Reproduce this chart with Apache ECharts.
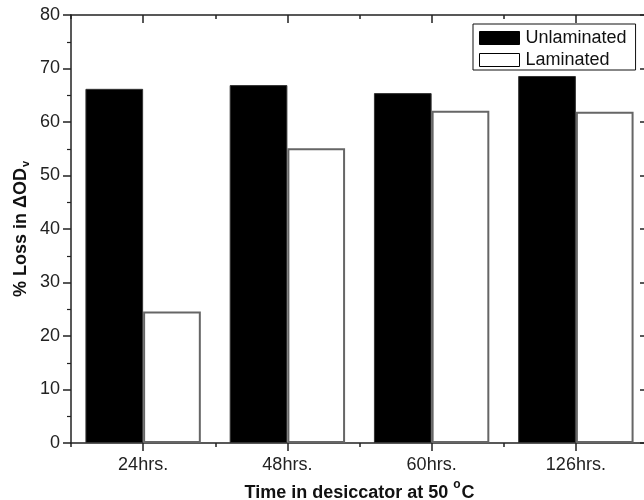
<!DOCTYPE html>
<html>
<head>
<meta charset="utf-8">
<script src="https://cdn.jsdelivr.net/npm/echarts@6/dist/echarts.min.js"></script>
<style>
html,body{margin:0;padding:0;background:#fff;}
#chart{width:644px;height:500px;}
</style>
</head>
<body>
<div id="chart"></div>
<script>
var categories = ['24hrs.', '48hrs.', '60hrs.', '126hrs.'];
var unlaminated = [66.2, 66.9, 65.4, 68.6];
var laminated = [24.6, 55.1, 62.1, 61.9];
var seriesNames = ['Unlaminated', 'Laminated'];
var yMin = 0, yMax = 80, yInterval = 10;

var FONT = '"Liberation Sans", Arial, Helvetica, sans-serif';
var AX = '#222';

var chart = echarts.init(document.getElementById('chart'), null, {renderer: 'canvas'});

function catAxis(pos, showLabel, len, align, showLine) {
  return {
    type: 'category', data: categories, position: pos,
    axisLine: {show: showLine, lineStyle: {color: AX, width: 1.5}},
    axisTick: {show: true, alignWithLabel: align, inside: pos === 'top', length: len, lineStyle: {color: AX, width: 1.5}},
    axisLabel: {show: showLabel, fontFamily: FONT, fontSize: 18, color: AX, margin: 13},
    splitLine: {show: false}
  };
}

var xAxes = [
  catAxis('bottom', true, 8, true, true),
  catAxis('bottom', false, 4, false, false),
  catAxis('top', false, 8, true, true),
  catAxis('top', false, 4, false, false)
];
xAxes[0].name = '{t|Time in desiccator at 50 }{s|o}{t|C}';
xAxes[0].nameLocation = 'middle';
xAxes[0].nameGap = 36;
xAxes[0].nameMoveOverlap = false;
xAxes[0].nameTextStyle = {
  rich: {
    t: {fontFamily: FONT, fontSize: 18, fontWeight: 'bold', color: '#111'},
    s: {fontFamily: FONT, fontSize: 12, fontWeight: 'bold', color: '#111', verticalAlign: 'top', padding: [0, 1, 16, 0]}
  }
};

function valAxis(pos) {
  var left = pos === 'left';
  return {
    type: 'value', min: yMin, max: yMax, interval: yInterval, position: pos,
    axisLine: {show: true, lineStyle: {color: AX, width: 1.5}},
    axisTick: {show: true, inside: !left, length: 8, lineStyle: {color: AX, width: 1.5}},
    minorTick: {show: true, splitNumber: 2, length: 4, lineStyle: {color: AX, width: 1.2}},
    axisLabel: {show: left, fontFamily: FONT, fontSize: 18, color: AX, margin: 11},
    splitLine: {show: false}
  };
}
var yAxes = [valAxis('left'), valAxis('right')];
yAxes[0].name = '{t|% Loss in ΔOD}{s|v}';
yAxes[0].nameLocation = 'middle';
yAxes[0].nameGap = 40;
yAxes[0].nameMoveOverlap = false;
yAxes[0].nameRotate = 90;
yAxes[0].nameTextStyle = {
  rich: {
    t: {fontFamily: FONT, fontSize: 18, fontWeight: 'bold', color: '#111'},
    s: {fontFamily: FONT, fontSize: 11, fontWeight: 'bold', color: '#111', verticalAlign: 'bottom', padding: [8, 0, 0, 1]}
  }
};

var option = {
  animation: false,
  backgroundColor: '#fff',
  grid: {left: 71, top: 15, width: 577, height: 428, containLabel: false, outerBoundsMode: 'none'},
  legend: {
    orient: 'vertical', left: 473, top: 24,
    padding: [5, 9, 1, 6],
    borderColor: '#111', borderWidth: 1,
    itemWidth: 40, itemHeight: 13, itemGap: 4,
    icon: 'rect',
    textStyle: {fontFamily: FONT, fontSize: 18, color: '#111', padding: [0, 0, 0, 1]},
    data: [
      {name: seriesNames[0], itemStyle: {color: '#000', borderColor: '#000', borderWidth: 1}},
      {name: seriesNames[1], itemStyle: {color: '#fff', borderColor: '#000', borderWidth: 1}}
    ]
  },
  xAxis: xAxes,
  yAxis: yAxes,
  series: [
    {name: seriesNames[0], type: 'bar', xAxisIndex: 0, yAxisIndex: 0, data: unlaminated,
     barWidth: '40%', barGap: '0%',
     itemStyle: {color: '#000', borderColor: '#333', borderWidth: 1}},
    {name: seriesNames[1], type: 'bar', xAxisIndex: 0, yAxisIndex: 0, data: laminated,
     barWidth: '40%', barGap: '0%',
     itemStyle: {color: '#fff', borderColor: '#666', borderWidth: 2}}
  ]
};
chart.setOption(option);
</script>
</body>
</html>
